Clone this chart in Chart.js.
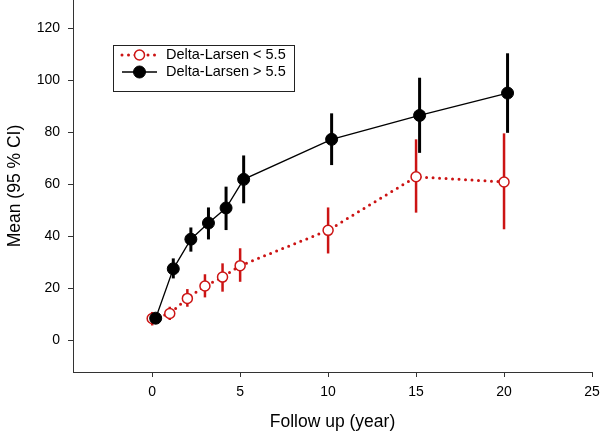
<!DOCTYPE html>
<html>
<head>
<meta charset="utf-8">
<script src="https://cdn.jsdelivr.net/npm/chart.js@4"></script>
<style>
html, body { margin: 0; padding: 0; background: #fff; }
#wrap { width: 600px; height: 434px; overflow: hidden; }
#myChart { display: block; margin-top: -7px; }
</style>
</head>
<body>
<div id="wrap"><canvas id="myChart" width="600" height="441"></canvas></div>
<script>
var seriesNames = ["Delta-Larsen < 5.5", "Delta-Larsen > 5.5"];
var yearsLow = [0, 1, 2, 3, 4, 5, 10, 15, 20];
var yearsHigh = [0.2, 1.2, 2.2, 3.2, 4.2, 5.2, 10.2, 15.2, 20.2];
var lowMean = [8.3, 10.2, 16, 20.8, 24.2, 28.6, 42.2, 62.8, 60.8];
var lowLower = [5.6, 7.7, 12.8, 16.4, 18.6, 22.4, 33.3, 49.0, 42.6];
var lowUpper = [10.8, 12.8, 19.6, 25.3, 29.5, 35.3, 51.0, 77.2, 79.5];
var highMean = [8.4, 27.4, 38.8, 45, 50.8, 61.8, 77.2, 86.4, 95.0];
var highLower = [7, 23.7, 34.0, 38.7, 42.3, 52.6, 67.3, 72.0, 79.7];
var highUpper = [10, 31.4, 43.3, 51.0, 59.0, 71.0, 87.2, 100.9, 110.3];
var xTicks = [0, 5, 10, 15, 20, 25];
var yTicks = [0, 20, 40, 60, 80, 100, 120];

var RED = "#cc1414";
var FONT = "'Liberation Sans', Arial, sans-serif";
var SHIFT = 7; // chart.js keeps 7px above the plot, canvas is pulled up by that much

function points(xs, ys) {
  return xs.map(function (x, i) { return { x: x, y: ys[i] }; });
}

// vertical CI bars, drawn under the markers
var errorBars = {
  id: "errorBars",
  beforeDatasetsDraw: function (chart) {
    var ctx = chart.ctx;
    var xs = chart.scales.x, ys = chart.scales.y;
    chart.data.datasets.forEach(function (ds) {
      ctx.save();
      ctx.strokeStyle = ds.barColor;
      ctx.lineWidth = ds.barWidth;
      ds.data.forEach(function (p, i) {
        var px = xs.getPixelForValue(p.x);
        ctx.beginPath();
        ctx.moveTo(px, ys.getPixelForValue(ds.lower[i]));
        ctx.lineTo(px, ys.getPixelForValue(ds.upper[i]));
        ctx.stroke();
      });
      ctx.restore();
    });
  }
};

// boxed legend inside the plot
var boxLegend = {
  id: "boxLegend",
  afterDraw: function (chart) {
    var ctx = chart.ctx;
    var top = chart.chartArea.top;
    ctx.save();
    ctx.strokeStyle = "#222";
    ctx.lineWidth = 1;
    ctx.strokeRect(113.5, top + 45.5, 181, 46);
    var rows = [top + 55, top + 72];
    chart.data.datasets.forEach(function (ds, i) {
      var y = rows[i];
      ctx.beginPath();
      ctx.strokeStyle = ds.borderColor;
      ctx.lineWidth = ds.borderWidth;
      ctx.lineCap = ds.borderCapStyle || "butt";
      ctx.setLineDash(ds.borderDash || []);
      ctx.moveTo(122, y);
      ctx.lineTo(157, y);
      ctx.stroke();
      ctx.setLineDash([]);
      ctx.beginPath();
      ctx.arc(139.5, y, ds.pointRadius, 0, Math.PI * 2);
      ctx.fillStyle = ds.pointBackgroundColor;
      ctx.fill();
      ctx.lineWidth = ds.pointBorderWidth;
      ctx.strokeStyle = ds.pointBorderColor;
      ctx.stroke();
      ctx.fillStyle = "#000";
      ctx.font = "14.5px " + FONT;
      ctx.textBaseline = "middle";
      ctx.fillText(ds.label, 166, y);
    });
    ctx.restore();
  }
};

var ctx = document.getElementById("myChart").getContext("2d");
var chart = new Chart(ctx, {
  type: "scatter",
  data: {
    datasets: [
      {
        label: seriesNames[0],
        data: points(yearsLow, lowMean),
        lower: lowLower,
        upper: lowUpper,
        barColor: RED,
        barWidth: 2.5,
        showLine: true,
        borderColor: RED,
        borderWidth: 3,
        borderDash: [0, 6.5],
        borderCapStyle: "round",
        pointRadius: 5,
        pointBorderWidth: 1.5,
        pointBorderColor: RED,
        pointBackgroundColor: "#fff",
        order: 2
      },
      {
        label: seriesNames[1],
        data: points(yearsHigh, highMean),
        lower: highLower,
        upper: highUpper,
        barColor: "#000",
        barWidth: 3,
        showLine: true,
        borderColor: "#000",
        borderWidth: 1.3,
        pointRadius: 6,
        pointBorderWidth: 1,
        pointBorderColor: "#000",
        pointBackgroundColor: "#000",
        order: 1
      }
    ]
  },
  options: {
    responsive: false,
    animation: false,
    events: [],
    layout: { padding: { left: 0, top: 0, right: 8, bottom: 0 } },
    plugins: { legend: { display: false }, tooltip: { enabled: false } },
    scales: {
      x: {
        type: "linear",
        min: -4.5,
        max: 25,
        afterBuildTicks: function (s) { s.ticks = xTicks.map(function (v) { return { value: v }; }); },
        afterFit: function (s) { s.height = 62; s.paddingLeft = 0; s.paddingRight = 0; },
        grid: { drawOnChartArea: false, drawTicks: true, tickLength: 5, color: "#333" },
        border: { color: "#333", width: 1 },
        ticks: { color: "#000", font: { family: FONT, size: 14 }, padding: 7, maxRotation: 0, autoSkip: false },
        title: { display: true, text: "Follow up (year)", color: "#000", font: { family: FONT, size: 17.5 }, padding: { top: 0, bottom: 1 } }
      },
      y: {
        min: -12.3,
        max: 130.8,
        afterBuildTicks: function (s) { s.ticks = yTicks.map(function (v) { return { value: v }; }); },
        afterFit: function (s) { s.width = 73; s.paddingTop = 0; s.paddingBottom = 0; },
        grid: { drawOnChartArea: false, drawTicks: true, tickLength: 5, color: "#333" },
        border: { color: "#333", width: 1 },
        ticks: { color: "#000", font: { family: FONT, size: 14 }, padding: 8, autoSkip: false },
        title: { display: true, text: "Mean (95 % CI)", color: "#000", font: { family: FONT, size: 17.5 }, padding: { top: 5, bottom: 0 } }
      }
    }
  },
  plugins: [errorBars, boxLegend]
});
</script>
</body>
</html>
